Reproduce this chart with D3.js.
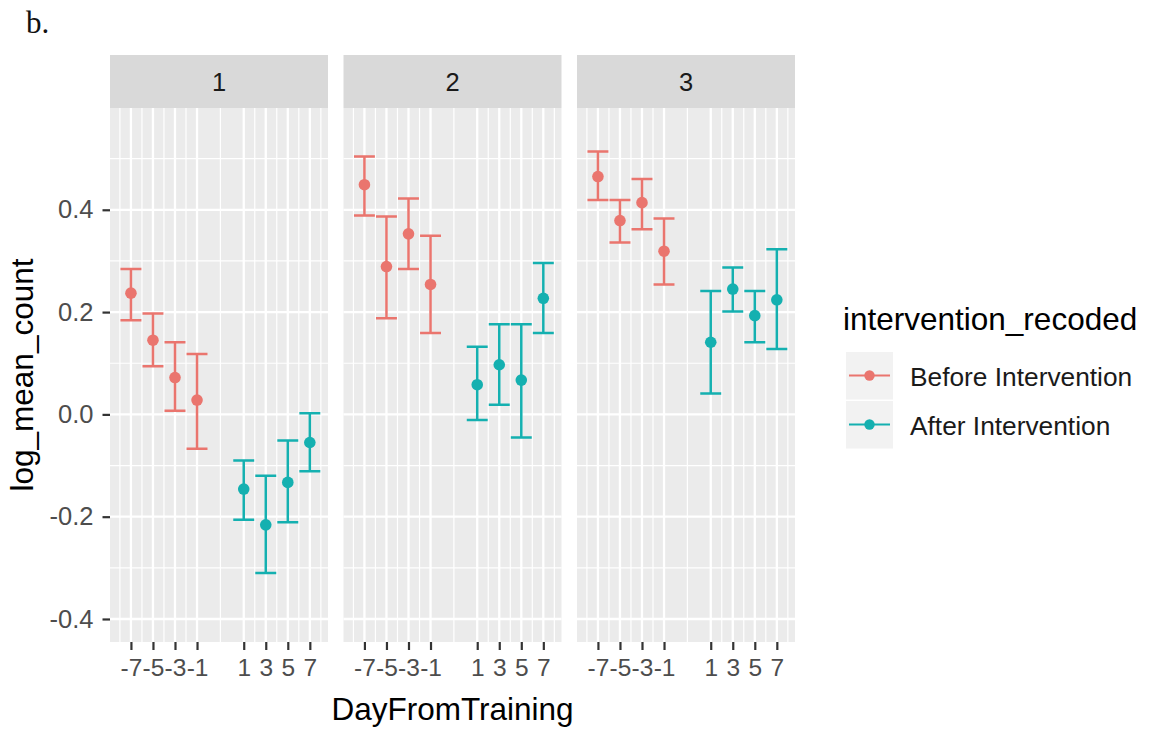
<!DOCTYPE html>
<html>
<head>
<meta charset="utf-8">
<script src="https://cdn.jsdelivr.net/npm/d3@7"></script>
<style>
  body { margin: 0; background: #fff; }
  svg text { font-family: "Liberation Sans", Arial, sans-serif; }
</style>
</head>
<body>
<div id="chart"></div>
<script>
// datos
const days = [-7, -5, -3, -1, 1, 3, 5, 7];
const facets = ["1", "2", "3"];
const groups = ["Before Intervention", "After Intervention"];

const means1 = [0.237, 0.145, 0.072, 0.028, -0.146, -0.216, -0.133, -0.055];
const lower1 = [0.184, 0.094, 0.007, -0.067, -0.206, -0.310, -0.211, -0.111];
const upper1 = [0.284, 0.197, 0.141, 0.118, -0.090, -0.120, -0.051, 0.002];

const means2 = [0.449, 0.289, 0.353, 0.254, 0.058, 0.097, 0.067, 0.227];
const lower2 = [0.389, 0.188, 0.284, 0.159, -0.011, 0.019, -0.045, 0.159];
const upper2 = [0.504, 0.387, 0.422, 0.349, 0.132, 0.176, 0.176, 0.296];

const means3 = [0.465, 0.379, 0.414, 0.319, 0.141, 0.245, 0.193, 0.224];
const lower3 = [0.419, 0.336, 0.362, 0.254, 0.041, 0.201, 0.141, 0.128];
const upper3 = [0.514, 0.419, 0.460, 0.383, 0.241, 0.287, 0.241, 0.323];

const yTicks = [-0.4, -0.2, 0.0, 0.2, 0.4];
const yMinor = [-0.3, -0.1, 0.1, 0.3, 0.5];
const xMinor = [-8, -6, -4, -2, 0, 2, 4, 6, 8];

const facetData = [
  { means: means1, lower: lower1, upper: upper1 },
  { means: means2, lower: lower2, upper: upper2 },
  { means: means3, lower: lower3, upper: upper3 },
];

// tamaño
const width = 1153, height = 730;
const panelLeft = 110, panelW = 218, panelGap = 15.5;
const stripTop = 55, panelTop = 108, panelBottom = 642;

const colors = d3.scaleOrdinal().domain(groups).range(["#EA756E", "#14B0B0"]);

// guion normal en vez del signo menos de d3
const fmtY = (d) => d.toFixed(1).replace("−", "-");
const fmtX = (d) => String(d);

const svg = d3.select("#chart").append("svg")
  .attr("width", width)
  .attr("height", height);

// etiqueta "b."
svg.append("text")
  .attr("x", 26).attr("y", 33)
  .style("font-family", "'Liberation Serif', 'Times New Roman', serif")
  .style("font-size", "31px")
  .attr("fill", "#111")
  .text("b.");

const y = d3.scaleLinear().domain([-0.445, 0.599]).range([panelBottom, panelTop]);

// escala x por tramos: el paso entre -1 y 1 es mas ancho
const xLo = -8.9, xHi = 8.65, gapUnits = 4.24;
const totalUnits = (-1 - xLo) + gapUnits + (xHi - 1);
const unit = panelW / totalUnits;
const x = d3.scaleLinear()
  .domain([xLo, -1, 1, xHi])
  .range([0, (-1 - xLo) * unit, (-1 - xLo + gapUnits) * unit, panelW]);

facets.forEach((f, fi) => {
  const px = panelLeft + fi * (panelW + panelGap);
  const g = svg.append("g").attr("transform", `translate(${px},0)`);

  // strip
  g.append("rect")
    .attr("x", 0).attr("y", stripTop)
    .attr("width", panelW).attr("height", panelTop - stripTop)
    .attr("fill", "#D9D9D9");
  g.append("text")
    .attr("x", panelW / 2).attr("y", (stripTop + panelTop) / 2)
    .attr("text-anchor", "middle").attr("dominant-baseline", "central")
    .style("font-size", "25.5px").attr("fill", "#1A1A1A")
    .text(f);

  // fondo del panel
  g.append("rect")
    .attr("x", 0).attr("y", panelTop)
    .attr("width", panelW).attr("height", panelBottom - panelTop)
    .attr("fill", "#EBEBEB");

  // grilla
  g.append("g").selectAll("line").data(yMinor).join("line")
    .attr("x1", 0).attr("x2", panelW)
    .attr("y1", d => y(d)).attr("y2", d => y(d))
    .attr("stroke", "#fff").attr("stroke-width", 1.2);
  g.append("g").selectAll("line").data(xMinor).join("line")
    .attr("x1", d => x(d)).attr("x2", d => x(d))
    .attr("y1", panelTop).attr("y2", panelBottom)
    .attr("stroke", "#fff").attr("stroke-width", 1.2);
  g.append("g").selectAll("line").data(yTicks).join("line")
    .attr("x1", 0).attr("x2", panelW)
    .attr("y1", d => y(d)).attr("y2", d => y(d))
    .attr("stroke", "#fff").attr("stroke-width", 2.3);
  g.append("g").selectAll("line").data(days).join("line")
    .attr("x1", d => x(d)).attr("x2", d => x(d))
    .attr("y1", panelTop).attr("y2", panelBottom)
    .attr("stroke", "#fff").attr("stroke-width", 2.3);

  // datos
  const fd = facetData[fi];
  const rows = days.map((d, i) => ({
    day: d,
    mean: fd.means[i],
    lo: fd.lower[i],
    hi: fd.upper[i],
    group: d < 0 ? groups[0] : groups[1],
  }));
  const capHalf = unit * 0.95;

  const bars = g.append("g").attr("fill", "none").attr("stroke-width", 2.5);
  bars.selectAll("path").data(rows).join("path")
    .attr("stroke", d => colors(d.group))
    .attr("d", d => {
      const cx = x(d.day), yl = y(d.lo), yh = y(d.hi);
      return `M${cx - capHalf},${yh}H${cx + capHalf}M${cx},${yh}V${yl}M${cx - capHalf},${yl}H${cx + capHalf}`;
    });

  g.append("g").selectAll("circle").data(rows).join("circle")
    .attr("cx", d => x(d.day)).attr("cy", d => y(d.mean))
    .attr("r", 5.8)
    .attr("fill", d => colors(d.group));

  // eje x
  const ax = g.append("g")
    .attr("transform", `translate(0,${panelBottom})`)
    .call(d3.axisBottom(x).tickValues(days).tickFormat(fmtX).tickSize(8).tickPadding(9));
  ax.select(".domain").remove();
  ax.selectAll(".tick line").attr("stroke", "#333").attr("stroke-width", 2.2);
  ax.selectAll(".tick text")
    .style("font-size", "24.5px").attr("fill", "#4D4D4D")
    .style("font-family", "'Liberation Sans', Arial, sans-serif");
});

// eje y
const ay = svg.append("g")
  .attr("transform", `translate(${panelLeft},0)`)
  .call(d3.axisLeft(y).tickValues(yTicks).tickFormat(fmtY).tickSize(7.5).tickPadding(9));
ay.select(".domain").remove();
ay.selectAll(".tick line").attr("stroke", "#333").attr("stroke-width", 2.2);
ay.selectAll(".tick text")
  .style("font-size", "25.5px").attr("fill", "#4D4D4D")
  .style("font-family", "'Liberation Sans', Arial, sans-serif");

// titulos de ejes
const panelsRight = panelLeft + 3 * panelW + 2 * panelGap;
svg.append("text")
  .attr("x", (panelLeft + panelsRight) / 2).attr("y", 720)
  .attr("text-anchor", "middle")
  .style("font-size", "31.5px").attr("fill", "#000")
  .text("DayFromTraining");

svg.append("text")
  .attr("transform", `translate(33,${(panelTop + panelBottom) / 2}) rotate(-90)`)
  .attr("text-anchor", "middle")
  .style("font-size", "31.5px").attr("fill", "#000")
  .text("log_mean_count");

// leyenda
const lg = svg.append("g").attr("transform", "translate(843,0)");
lg.append("text")
  .attr("x", 0).attr("y", 330)
  .style("font-size", "31.5px").attr("fill", "#000")
  .text("intervention_recoded");

const keyTop = 352, keyH = 49, keyW = 47;
groups.forEach((gr, i) => {
  const ky = keyTop + i * keyH;
  lg.append("rect")
    .attr("x", 3).attr("y", ky)
    .attr("width", keyW).attr("height", keyH - 1.5)
    .attr("fill", "#F2F2F2");
  lg.append("line")
    .attr("x1", 6).attr("x2", keyW)
    .attr("y1", ky + keyH / 2 - 1).attr("y2", ky + keyH / 2 - 1)
    .attr("stroke", colors(gr)).attr("stroke-width", 2.2);
  lg.append("circle")
    .attr("cx", 3 + keyW / 2).attr("cy", ky + keyH / 2 - 1)
    .attr("r", 5.2).attr("fill", colors(gr));
  lg.append("text")
    .attr("x", 67).attr("y", ky + keyH / 2)
    .attr("dominant-baseline", "central")
    .style("font-size", "26.3px").attr("fill", "#1A1A1A")
    .text(gr);
});
</script>
</body>
</html>
